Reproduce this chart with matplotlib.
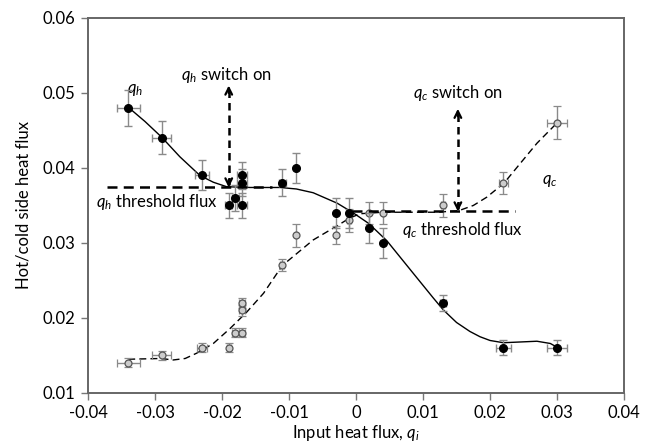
import matplotlib
matplotlib.use("Agg")
import matplotlib.pyplot as plt

plt.rcParams['font.family'] = ['Lato', 'DejaVu Sans']
plt.rcParams['mathtext.fontset'] = 'custom'
plt.rcParams['mathtext.it'] = 'Lato:italic'
plt.rcParams['mathtext.rm'] = 'Lato'

# measured points (hot side q_h, filled) and (cold side q_c, open)
qh_x = [-0.034, -0.029, -0.023, -0.019, -0.018, -0.017, -0.017, -0.017, -0.011,
        -0.009, -0.003, -0.001, 0.002, 0.004, 0.013, 0.022, 0.030]
qh_y = [0.048, 0.044, 0.039, 0.035, 0.036, 0.039, 0.038, 0.035, 0.038,
        0.040, 0.034, 0.034, 0.032, 0.030, 0.022, 0.016, 0.016]
qh_yerr = [0.0024, 0.0022, 0.0020, 0.0017, 0.0017, 0.0018, 0.0018, 0.0017, 0.0018,
           0.0020, 0.0020, 0.0020, 0.0020, 0.0020, 0.0011, 0.0010, 0.0010]
qh_xerr = [0.0017, 0.0014, 0.0010, 0.0005, 0.0005, 0.0007, 0.0007, 0.0007, 0.0005,
           0.0, 0.0, 0.0, 0.0, 0.0, 0.0004, 0.0011, 0.0015]

qc_x = [-0.034, -0.029, -0.023, -0.019, -0.018, -0.017, -0.017, -0.017, -0.011,
        -0.009, -0.003, -0.001, 0.002, 0.004, 0.013, 0.022, 0.030]
qc_y = [0.014, 0.015, 0.016, 0.016, 0.018, 0.018, 0.021, 0.022, 0.027,
        0.031, 0.031, 0.033, 0.034, 0.034, 0.035, 0.038, 0.046]
qc_yerr = [0.0006, 0.0006, 0.0006, 0.0006, 0.0006, 0.0006, 0.0007, 0.0007, 0.0008,
           0.0015, 0.0012, 0.0015, 0.0015, 0.0015, 0.0015, 0.0015, 0.0022]
qc_xerr = [0.0017, 0.0014, 0.0008, 0.0003, 0.0005, 0.0005, 0.0005, 0.0005, 0.0003,
           0.0, 0.0, 0.0003, 0.0, 0.0, 0.0003, 0.0007, 0.0015]

# fitted trend curves
qh_fit_x = [-0.034, -0.0315, -0.029, -0.0263, -0.0233, -0.0213, -0.0193, -0.0158,
            -0.0113, -0.0089, -0.0064, -0.0028, -0.0004, 0.0019, 0.0046, 0.0085,
            0.0115, 0.013, 0.015, 0.017, 0.0185, 0.020, 0.022, 0.0245, 0.027, 0.029, 0.030]
qh_fit_y = [0.0481, 0.0462, 0.0441, 0.0415, 0.0390, 0.0381, 0.0375, 0.0374,
            0.0374, 0.0372, 0.0367, 0.0353, 0.0340, 0.0326, 0.0303, 0.0260,
            0.0227, 0.0211, 0.0194, 0.0182, 0.0175, 0.0170, 0.0167, 0.0168, 0.0169, 0.0166, 0.0161]

qc_fit_x = [-0.034, -0.0291, -0.0273, -0.0255, -0.0238, -0.0213, -0.0188, -0.0163,
            -0.0138, -0.0110, -0.0064, -0.0028, -0.0010, 0.0006, 0.004, 0.008,
            0.012, 0.0153, 0.0175, 0.0195, 0.0221, 0.0245, 0.027, 0.0301]
qc_fit_y = [0.0145, 0.0146, 0.0144, 0.0146, 0.0153, 0.0166, 0.0186, 0.0208,
            0.0233, 0.0270, 0.0304, 0.0323, 0.0333, 0.0339, 0.0341, 0.0341,
            0.0341, 0.0343, 0.0350, 0.0361, 0.0380, 0.0406, 0.0433, 0.0461]

# threshold levels and switch-on positions
qh_threshold = 0.0374
qh_thr_span = [-0.0372, -0.0125]
qc_threshold = 0.0342
qc_thr_span = [-0.0006, 0.0237]
qh_switch_x = -0.019
qc_switch_x = 0.0152

fig = plt.figure(figsize=(6.54, 4.44), dpi=100)
ax = fig.add_axes([0.1346, 0.1149, 0.8196, 0.8446])

err_kw = dict(ecolor='#8a8a8a', elinewidth=1.0, capsize=3, capthick=1.0, linestyle='none')

ax.plot(qh_fit_x, qh_fit_y, color='black', lw=1.0, zorder=3)
ax.plot(qc_fit_x, qc_fit_y, color='black', lw=1.0, dashes=(5, 3), zorder=3)

ax.errorbar(qc_x, qc_y, yerr=qc_yerr, xerr=qc_xerr, marker='o', ms=5,
            mfc='#cccccc', mec='#555555', mew=0.9, zorder=4, **err_kw)
ax.errorbar(qh_x, qh_y, yerr=qh_yerr, xerr=qh_xerr, marker='o', ms=5.5,
            mfc='black', mec='black', zorder=5, **err_kw)

# threshold lines
ax.plot(qh_thr_span, [qh_threshold, qh_threshold], color='black', lw=1.8, dashes=(4, 2.5), zorder=6)
ax.plot(qc_thr_span, [qc_threshold, qc_threshold], color='black', lw=1.8, dashes=(4, 2.5), zorder=6)

# switch-on arrows
for xs, y0, y1 in [(qh_switch_x, qh_threshold, 0.0510), (qc_switch_x, qc_threshold, 0.0479)]:
    ax.plot([xs, xs], [y0 + 0.0003, y1 - 0.0003], color='black', lw=1.8, dashes=(3, 2), zorder=6)
    ax.annotate('', xy=(xs, y1), xytext=(xs, y1 - 0.001),
                arrowprops=dict(arrowstyle='->', lw=1.6, color='black',
                                shrinkA=0, shrinkB=0, mutation_scale=12), zorder=7)
    ax.annotate('', xy=(xs, y0), xytext=(xs, y0 + 0.001),
                arrowprops=dict(arrowstyle='->', lw=1.6, color='black',
                                shrinkA=0, shrinkB=0, mutation_scale=12), zorder=7)

ax.text(-0.0193, 0.0524, r'$q_h$ switch on', fontsize=12, ha='center', va='center')
ax.text(0.0152, 0.0500, r'$q_c$ switch on', fontsize=12, ha='center', va='center')
ax.text(-0.0388, 0.0355, r'$q_h$ threshold flux', fontsize=12, ha='left', va='center')
ax.text(0.0068, 0.0317, r'$q_c$ threshold flux', fontsize=12, ha='left', va='center')
ax.text(-0.0342, 0.0504, r'$q_h$', fontsize=12, ha='left', va='center')
ax.text(0.0277, 0.0383, r'$q_c$', fontsize=12, ha='left', va='center')

ax.set_xlim(-0.04, 0.04)
ax.set_ylim(0.01, 0.06)
ax.set_xticks([-0.04, -0.03, -0.02, -0.01, 0, 0.01, 0.02, 0.03, 0.04])
ax.set_xticklabels(['-0.04', '-0.03', '-0.02', '-0.01', '0', '0.01', '0.02', '0.03', '0.04'])
ax.set_yticks([0.01, 0.02, 0.03, 0.04, 0.05, 0.06])
ax.set_yticklabels(['0.01', '0.02', '0.03', '0.04', '0.05', '0.06'])
ax.tick_params(direction='out', length=5, width=1, color='#777777', labelsize=12, pad=4)
for s in ax.spines.values():
    s.set_color('#666666')
    s.set_linewidth(1.4)

ax.set_xlabel(r'Input heat flux, $q_i$', fontsize=12, labelpad=1)
ax.set_ylabel('Hot/cold side heat flux', fontsize=12, labelpad=8)

fig.savefig('out.png', dpi=100)
